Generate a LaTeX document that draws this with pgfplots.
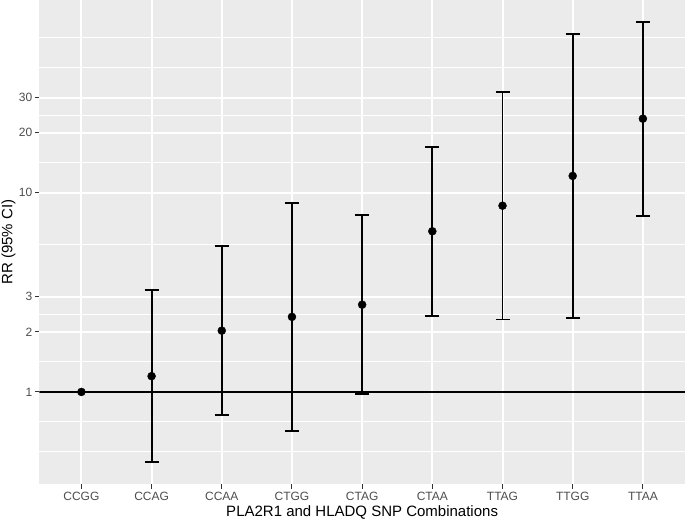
\documentclass[border=0pt]{standalone}
\usepackage{fontspec}
\setmainfont{Liberation Sans}
\usepackage{pgfplots}
\usepackage{pgfplotstable}
\pgfplotsset{compat=1.18}

\definecolor{panelbg}{HTML}{EBEBEB}
\definecolor{ticklab}{HTML}{4D4D4D}
\definecolor{tickcol}{HTML}{333333}

% relative risk with 95% CI, per SNP combination
\pgfplotstableread{
x  y      lo     hi
1  1.00   1.00   1.00
2  1.20   0.444  3.26
3  2.03   0.769  5.38
4  2.38   0.637  8.91
5  2.74   0.977  7.70
6  6.40   2.41   16.95
7  8.60   2.31   32.1
8  12.13  2.35   62.8
9  23.5   7.66   71.9
}\rrdata

\begin{document}
\begin{tikzpicture}
\begin{axis}[
    at={(0pt,0pt)}, anchor=south west,
    scale only axis,
    width=645.7pt, height=484.3pt,
    xmin=0.4, xmax=9.6,
    ymode=log, ymin=0.344, ymax=92.6,
    xtick={1,2,3,4,5,6,7,8,9},
    xticklabels={CCGG,CCAG,CCAA,CTGG,CTAG,CTAA,TTAG,TTGG,TTAA},
    ytick={1,2,3,10,20,30},
    yticklabels={1,2,3,10,20,30},
    minor ytick={0.5,0.7071,1.4142,2.4495,5.4772,14.142,24.495,42.43,60},
    grid=both,
    major grid style={white, line width=2pt},
    minor grid style={white, line width=1pt},
    axis line style={draw=none},
    axis background/.style={fill=panelbg},
    tick pos=left,
    tick align=outside,
    major tick length=4.4pt,
    minor tick length=0pt,
    tick style={tickcol, line width=1pt},
    ticklabel style={font=\fontsize{12}{12}\selectfont, text=ticklab},
    xticklabel style={anchor=north, inner sep=0pt, yshift=-3pt},
    yticklabel style={anchor=east, inner sep=0pt, xshift=-2.5pt},
    every axis x label/.style={at={(axis description cs:0.5,-0.0671)}, anchor=base},
    every axis y label/.style={at={(axis description cs:-0.04181,0.5)}, anchor=base, rotate=90},
    label style={font=\fontsize{15}{15}\selectfont},
    xlabel={PLA2R1 and HLADQ SNP Combinations},
    ylabel={RR (95\% CI)},
]
    \addplot[black, line width=1.8pt, forget plot] coordinates {(0.4,1) (9.6,1)};

    \addplot[only marks, mark=*, mark size=4pt, black,
        error bars/.cd, y dir=both, y explicit,
        error bar style={black, line width=1.9pt},
        error mark options={black, line width=1.9pt, mark size=7pt, rotate=90}]
        table[x=x, y=y,
              y error plus expr=\thisrow{hi}-\thisrow{y},
              y error minus expr=\thisrow{y}-\thisrow{lo}] {\rrdata};
\end{axis}
\pgfresetboundingbox
\useasboundingbox (-39.3pt,-34.7pt) rectangle (645.7pt,484.3pt);
\end{tikzpicture}
\end{document}
